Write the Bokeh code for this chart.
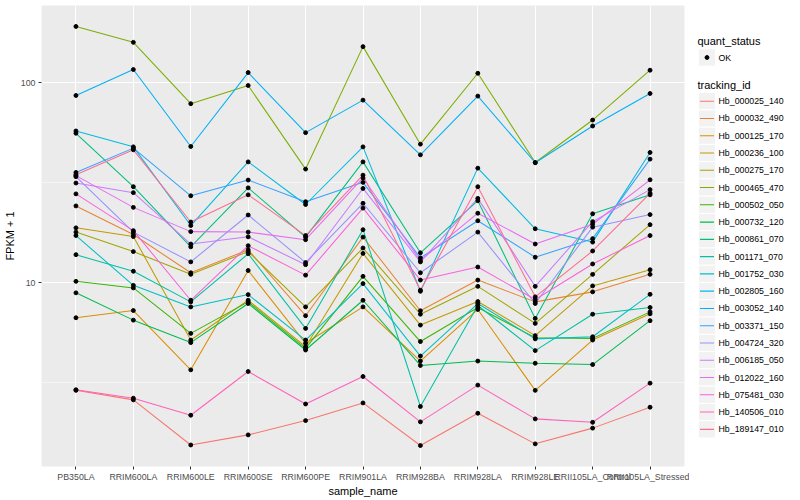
import math
from bokeh.plotting import figure
from bokeh.models import Range1d, FixedTicker, ColumnDataSource
from bokeh.layouts import row
from bokeh.embed import file_html
from bokeh.resources import INLINE
from bokeh.core.properties import value

samples = ["PB350LA", "RRIM600LA", "RRIM600LE", "RRIM600SE", "RRIM600PE", "RRIM901LA",
           "RRIM928BA", "RRIM928LA", "RRIM928LE", "RRII105LA_Control", "RRII105LA_Stressed"]

tracking_ids = ["Hb_000025_140", "Hb_000032_490", "Hb_000125_170", "Hb_000236_100",
                "Hb_000275_170", "Hb_000465_470", "Hb_000502_050", "Hb_000732_120",
                "Hb_000861_070", "Hb_001171_070", "Hb_001752_030", "Hb_002805_160",
                "Hb_003052_140", "Hb_003371_150", "Hb_004724_320", "Hb_006185_050",
                "Hb_012022_160", "Hb_075481_030", "Hb_140506_010", "Hb_189147_010"]

palette = ["#F8766D", "#EA8331", "#D89000", "#C09B00", "#A3A500", "#7CAE00", "#39B600",
           "#00BB4E", "#00BF7D", "#00C1A3", "#00BFC4", "#00BAE0", "#00B0F6", "#35A2FF",
           "#9590FF", "#C77CFF", "#E76BF3", "#FA62DB", "#FF62BC", "#FF6C91"]

# FPKM + 1 per sample, one list per tracking id
hb_000025_140 = [2.89, 2.59, 1.54, 1.73, 2.04, 2.50, 1.53, 2.22, 1.56, 1.87, 2.38]
hb_000032_490 = [24.2, 17.4, 11.2, 14.6, 6.83, 16.9, 7.23, 10.3, 8.01, 8.99, 11.0]
hb_000125_170 = [6.67, 7.25, 3.66, 11.5, 4.97, 7.56, 4.05, 7.34, 2.89, 5.16, 6.98]
hb_000236_100 = [18.8, 17.0, 5.16, 8.16, 4.78, 14.0, 6.13, 8.04, 5.43, 9.63, 11.6]
hb_000275_170 = [17.9, 14.3, 11.0, 14.3, 7.56, 14.9, 6.95, 9.58, 6.25, 11.0, 19.5]
hb_000465_470 = [191.4, 159.4, 78.6, 96.9, 37.0, 151.7, 49.3, 111.6, 39.9, 65.1, 115.6]
hb_000502_050 = [10.15, 9.41, 5.57, 8.01, 4.69, 10.75, 5.07, 7.51, 5.30, 5.26, 7.14]
hb_000732_120 = [8.89, 6.49, 5.01, 7.86, 4.60, 8.16, 3.85, 4.05, 3.95, 3.89, 6.45]
hb_000861_070 = [55.9, 30.2, 15.1, 29.8, 16.9, 40.2, 14.1, 25.7, 6.62, 22.1, 27.5]
hb_001171_070 = [13.8, 11.4, 8.01, 13.95, 5.90, 18.4, 2.40, 7.68, 4.57, 6.95, 7.51]
hb_001752_030 = [17.2, 9.69, 7.56, 8.71, 5.16, 9.89, 4.29, 7.86, 5.23, 5.36, 8.74]
hb_002805_160 = [57.4, 47.8, 19.3, 40.2, 24.6, 47.8, 9.05, 37.4, 18.6, 15.95, 44.8]
hb_003052_140 = [86.4, 116.5, 48.0, 112.5, 56.3, 81.9, 43.6, 85.8, 39.8, 60.8, 88.4]
hb_003371_150 = [35.6, 47.1, 27.2, 32.6, 25.4, 31.75, 13.3, 20.4, 13.4, 16.6, 41.5]
hb_004724_320 = [33.9, 17.9, 12.7, 21.8, 12.6, 24.95, 11.2, 17.9, 7.86, 18.95, 21.9]
hb_006185_050 = [31.5, 28.2, 15.6, 16.95, 12.3, 29.6, 12.7, 26.4, 9.58, 20.2, 29.2]
hb_012022_160 = [34.3, 23.8, 18.0, 17.9, 16.4, 33.4, 12.9, 22.25, 15.6, 19.6, 32.7]
hb_075481_030 = [27.8, 18.2, 8.16, 15.3, 10.9, 23.6, 10.3, 11.97, 8.23, 12.4, 17.2]
hb_140506_010 = [2.91, 2.64, 2.17, 3.59, 2.47, 3.39, 2.01, 3.07, 2.08, 2.00, 3.14]
hb_189147_010 = [34.7, 46.2, 20.1, 27.5, 17.2, 34.5, 9.16, 30.2, 8.49, 14.4, 28.0]

series = [hb_000025_140, hb_000032_490, hb_000125_170, hb_000236_100, hb_000275_170,
          hb_000465_470, hb_000502_050, hb_000732_120, hb_000861_070, hb_001171_070,
          hb_001752_030, hb_002805_160, hb_003052_140, hb_003371_150, hb_004724_320,
          hb_006185_050, hb_012022_160, hb_075481_030, hb_140506_010, hb_189147_010]

quant_status = ["OK"]
y_ticks = [10, 100]
y_minor = [10 ** 0.5, 10 ** 1.5]

FONT = "Liberation Sans"
TOP, FH, BOT = 5, 461, 32

xs = list(range(len(samples)))
allv = [v for s in series for v in s]
lo, hi = math.log10(min(allv)), math.log10(max(allv))
span = hi - lo

p = figure(frame_width=643, frame_height=FH,
           min_border_left=32, min_border_right=5, min_border_top=TOP, min_border_bottom=BOT,
           x_range=Range1d(-0.6, len(samples) - 1 + 0.6),
           y_range=Range1d(10 ** (lo - 0.05 * span), 10 ** (hi + 0.05 * span)),
           y_axis_type="log", output_backend="svg", toolbar_location=None)
p.background_fill_color = "#EBEBEB"
p.border_fill_color = "white"
p.outline_line_color = None

xt = FixedTicker(ticks=xs)
p.xaxis.ticker = xt
p.xgrid.ticker = xt
p.xaxis.major_label_overrides = {i: s for i, s in enumerate(samples)}
yt = FixedTicker(ticks=y_ticks, minor_ticks=y_minor)
p.yaxis.ticker = yt
p.ygrid.ticker = yt
p.yaxis.major_label_overrides = {t: str(t) for t in y_ticks}

p.grid.grid_line_color = "white"
p.grid.grid_line_width = 1.1
p.ygrid.minor_grid_line_color = "white"
p.ygrid.minor_grid_line_width = 0.55

for ax in (p.xaxis, p.yaxis):
    ax.axis_line_color = None
    ax.major_tick_line_color = "#333333"
    ax.major_tick_out = 3
    ax.major_tick_in = 0
    ax.minor_tick_line_color = None
    ax.major_label_text_font = FONT
    ax.major_label_text_font_size = "8.8px"
    ax.major_label_text_color = "#4D4D4D"
    ax.major_label_standoff = 2
    ax.axis_label_text_font = FONT
    ax.axis_label_text_font_size = "11px"
    ax.axis_label_text_font_style = "normal"
    ax.axis_label_text_color = "black"
    ax.axis_label_standoff = 2
p.xaxis.axis_label_standoff = 0
p.xaxis.axis_label = "sample_name"
p.yaxis.axis_label = "FPKM + 1"

for vals, col in zip(series, palette):
    p.line(xs, vals, line_color=col, line_width=1.05)

px = [x for s in series for x in xs]
p.scatter(px, allv, size=3.9, color="black")

# legend panel: its frame matches the main frame (page y 5..466), x in page pixels
lg = figure(frame_width=104, frame_height=FH, min_border_left=0, min_border_right=0,
            min_border_top=TOP, min_border_bottom=BOT,
            x_range=Range1d(688, 792), y_range=Range1d(TOP + FH, TOP),
            output_backend="svg", toolbar_location=None,
            x_axis_location=None, y_axis_location=None)
lg.grid.visible = False
lg.outline_line_color = None
lg.background_fill_color = "white"
lg.border_fill_color = "white"

kx, kw = 705.5, 17.3
tx = 717
lg.text([696], [40], text=["quant_status"], text_font=value(FONT), text_font_size="11px",
        text_baseline="middle", text_align="left", text_color="black")
lg.rect([kx], [57], kw, kw, fill_color="#F2F2F2", line_color="white", line_width=1)
lg.scatter([kx], [57], size=3.9, color="black")
lg.text([tx], [57], text=quant_status, text_font=value(FONT), text_font_size="8.8px",
        text_baseline="middle", text_align="left", text_color="black")
lg.text([696], [84], text=["tracking_id"], text_font=value(FONT), text_font_size="11px",
        text_baseline="middle", text_align="left", text_color="black")

iy = [100.7 + 17.27 * i for i in range(len(tracking_ids))]
src = ColumnDataSource(dict(y=iy, x=[kx] * len(iy), x0=[kx - 7] * len(iy), x1=[kx + 7] * len(iy),
                            tx=[tx] * len(iy), label=tracking_ids, color=palette))
lg.rect(x="x", y="y", width=kw, height=kw, source=src, fill_color="#F2F2F2",
        line_color="white", line_width=1)
lg.segment(x0="x0", y0="y", x1="x1", y1="y", source=src, line_color="color", line_width=1.1)
lg.text(x="tx", y="y", text="label", source=src, text_font=value(FONT), text_font_size="8.8px",
        text_baseline="middle", text_align="left", text_color="black")

layout = row(p, lg)
open("out.html", "w").write(file_html(layout, INLINE))
